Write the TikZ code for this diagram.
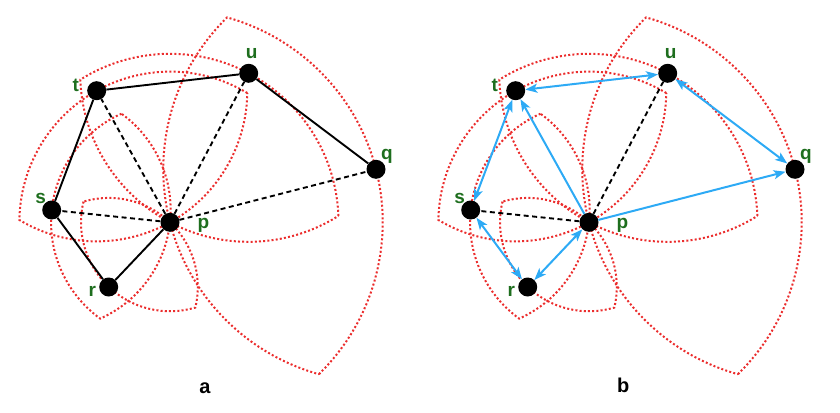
\documentclass[tikz,border=0pt]{standalone}
\usepackage{fontspec}
\setsansfont{Liberation Sans}
\usepackage{xcolor}
\usepackage{tikz}
\usetikzlibrary{arrows.meta, positioning, calc, backgrounds}
\definecolor{lunered}{RGB}{235,45,45}
\definecolor{lblgreen}{RGB}{30,110,30}
\definecolor{edgeblue}{RGB}{45,170,245}
\tikzset{
    dot/.style={
        circle,
        fill=black,
        minimum size=19pt,
        inner sep=0pt,
    },
    lbl/.style={
        anchor=base,
        inner sep=0pt,
        text=lblgreen,
        font=\sffamily\bfseries\fontsize{19}{19}\selectfont,
    },
    caption/.style={
        anchor=base,
        inner sep=0pt,
        font=\sffamily\bfseries\fontsize{20}{20}\selectfont,
    },
    lune/.style={
        draw=lunered,
        line width=2pt,
        dash pattern=on 2pt off 2.2pt,
    },
    edge/.style={
        line width=1.9pt,
    },
    link/.style={
        line width=1.9pt,
        dash pattern=on 5pt off 3.5pt,
    },
    flow/.style={
        draw=edgeblue,
        line width=2pt,
    },
}

\begin{document}
\begin{tikzpicture}[x=1pt,y=1pt,>={Stealth[length=12pt,width=9pt,inset=3pt]}]
          \useasboundingbox (0,0) rectangle (840,-412);

          % panel a
          \node [dot] (p) at (170,-222.3) {};
          \node [dot] (q) at (376,-169.3) {};
          \node [dot] (r) at (108.7,-287) {};
          \node [dot] (s) at (51.7,-210) {};
          \node [dot] (t) at (96.7,-90.7) {};
          \node [dot] (u) at (248.7,-73.3) {};

          % panel b
          \node [dot] (pb) at (589,-222.3) {};
          \node [dot] (qb) at (795,-169.3) {};
          \node [dot] (rb) at (527.7,-287) {};
          \node [dot] (sb) at (470.7,-210) {};
          \node [dot] (tb) at (515.7,-90.7) {};
          \node [dot] (ub) at (667.7,-73.3) {};

          % lunes of p with each neighbour
          \begin{scope}[on background layer]
          \foreach \c/\v in {p/q, p/r, p/s, p/t, p/u, pb/qb, pb/rb, pb/sb, pb/tb, pb/ub}
              \draw [lune] let \p1=($(\v)-(\c)$), \n1={atan2(\y1,\x1)}, \n2={veclen(\x1,\y1)} in
                  ($(\c)+(\n1-60:\n2)$) arc [start angle=\n1-60, end angle=\n1+60, radius=\n2]
                  arc [start angle=\n1+120, end angle=\n1+240, radius=\n2] -- cycle;
          \end{scope}

          \draw [edge] (t) -- (u);
          \draw [edge] (u) -- (q);
          \draw [edge] (t) -- (s);
          \draw [edge] (s) -- (r);
          \draw [edge] (r) -- (p);
          \draw [link] (p) -- (t);
          \draw [link] (p) -- (u);
          \draw [link] (p) -- (s);
          \draw [link] (p) -- (q);

          \draw [flow, <->] (tb) -- (ub);
          \draw [flow, <->] (ub) -- (qb);
          \draw [flow, <->] (tb) -- (sb);
          \draw [flow, <->] (sb) -- (rb);
          \draw [flow, <->] (rb) -- (pb);
          \draw [flow, ->] (pb) -- (tb);
          \draw [flow, ->] (pb) -- (qb);
          \draw [link] (pb) -- (ub);
          \draw [link] (pb) -- (sb);

          \foreach \n/\dx/\dy in {p/33.5/-5.7, q/11/10, r/-16.5/-9.7, s/-11/7, t/-21/-1, u/3/15}{
              \node [lbl] (\n-l) at ($(\n)+(\dx,\dy)$) {\n};
              \node [lbl] (\n b-l) at ($(\n b)+(\dx,\dy)$) {\n};
          }

          \node [caption] (cap-a) at (205,-393.3) {a};
          \node [caption] (cap-b) at (623.3,-392.7) {b};
\end{tikzpicture}
\end{document}
